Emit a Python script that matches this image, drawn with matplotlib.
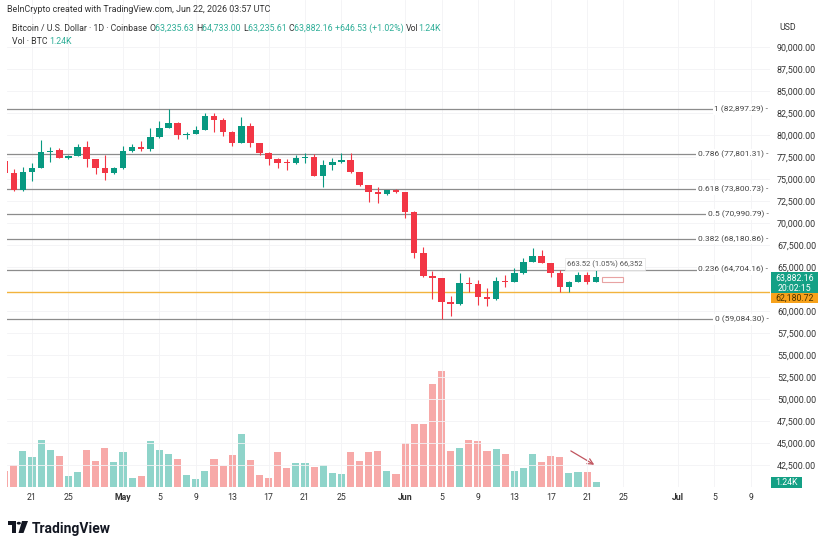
import matplotlib
matplotlib.use("Agg")
import matplotlib.pyplot as plt
import matplotlib.dates as mdates
import matplotlib.transforms as mtransforms
from matplotlib.patches import Rectangle, Polygon, Circle
import numpy as np
import pandas as pd

plt.rcParams['font.family'] = ['Roboto', 'DejaVu Sans']

# daily candles, Apr 18 - Jun 22 2026
dates = pd.date_range('2026-04-18', '2026-06-22', freq='D')
opens = [77030, 75700, 73740, 75780, 76270, 78080, 78280, 77370, 77590, 78580,
         77250, 76230, 75630, 76200, 78160, 78580, 78390, 79720, 80810, 81370,
         79940, 80130, 80580, 82140, 81680, 80350, 79100, 81000, 79040, 77970,
         77290, 76910, 76770, 77370, 77450, 75360, 76570, 76880, 77140, 75750,
         74270, 73480, 73280, 73700, 73480, 71270, 66550, 63970, 63710, 61020,
         60760, 63210, 63030, 61630, 61360, 63440, 63330, 64350, 65600, 66240,
         65480, 64350, 62760, 63330, 64090, 63235.63]
highs = [77250, 76090, 76380, 76770, 79410, 78650, 78470, 77710, 78920, 79330,
         77300, 77710, 76350, 78760, 78920, 79330, 80740, 81600, 82897.29, 81450,
         80350, 81000, 82440, 82440, 81870, 80400, 82060, 81310, 79100, 78000,
         77350, 77220, 77710, 77900, 77870, 77140, 77330, 77970, 77970, 75800,
         74300, 74110, 73750, 73850, 73500, 71300, 67230, 64580, 63750, 61700,
         64280, 63900, 63520, 62580, 63900, 64090, 64850, 65980, 67120, 66930,
         65500, 64660, 63400, 64460, 64460, 64733.00]
lows = [75500, 73600, 73600, 74790, 76200, 76950, 77350, 77290, 77550, 76380,
        75550, 74870, 75550, 76150, 78100, 78200, 78200, 79650, 80750, 79490,
        79490, 80080, 80500, 80350, 79870, 78730, 79050, 78580, 77710, 76540,
        76200, 76000, 76700, 76830, 75300, 74110, 76000, 76850, 75700, 74200,
        72340, 72290, 73200, 73400, 70520, 65980, 63900, 61330, 59084.30, 59430,
        60700, 62190, 60680, 60570, 61300, 62760, 63300, 64200, 65550, 65400,
        63900, 62190, 62190, 63250, 63100, 63235.61]
closes = [75700, 73740, 75780, 76270, 78080, 78200, 77400, 77590, 78580, 77250,
          76230, 75630, 76200, 78160, 78580, 78390, 79720, 80810, 81370, 79940,
          80130, 80580, 82140, 81680, 80350, 79100, 81000, 79040, 77970, 77290,
          76830, 76770, 77370, 77450, 75360, 76570, 76880, 77140, 75750, 74270,
          73480, 73280, 73700, 73480, 71270, 66550, 63970, 63710, 61020, 60760,
          63210, 63030, 61630, 61360, 63440, 63330, 64350, 65600, 66240, 65480,
          64350, 62760, 63330, 64090, 63236, 63882.16]
# volume in thousands of BTC
volumes = [4.2, 5.7, 9.5, 7.9, 12.3, 9.9, 8.2, 2.8, 4.0, 9.8,
           6.9, 10.2, 6.7, 9.3, 2.3, 2.8, 12.1, 9.7, 8.8, 7.4,
           3.3, 2.0, 4.2, 7.4, 5.5, 8.4, 14.1, 7.0, 3.1, 2.5,
           9.3, 5.1, 6.3, 6.3, 5.4, 5.9, 3.8, 3.4, 9.2, 6.9,
           9.2, 9.5, 4.2, 3.4, 11.5, 16.7, 16.7, 27.3, 30.6, 9.5,
           10.4, 12.5, 12.1, 9.5, 10.0, 8.6, 4.2, 4.9, 8.6, 6.6,
           8.1, 7.9, 3.7, 4.0, 4.0, 1.24]

fib_ratios = ['1', '0.786', '0.618', '0.5', '0.382', '0.236', '0']
fib_levels = [82897.29, 77801.31, 73800.73, 70990.79, 68180.86, 64704.16, 59084.30]
support_level = 62180.72
last_close = 63882.16

price_ticks = [42500, 45000, 47500, 50000, 52500, 55000, 57500, 60000, 65000,
               67500, 70000, 72500, 75000, 77500, 80000, 82500, 85000, 87500, 90000]
tick_dates = ['2026-04-21', '2026-04-25', '2026-05-01', '2026-05-05', '2026-05-09',
              '2026-05-13', '2026-05-17', '2026-05-21', '2026-05-25', '2026-06-01',
              '2026-06-05', '2026-06-09', '2026-06-13', '2026-06-17', '2026-06-21',
              '2026-06-25', '2026-07-01', '2026-07-05', '2026-07-09']
tick_labels = ['21', '25', 'May', '5', '9', '13', '17', '21', '25', 'Jun',
               '5', '9', '13', '17', '21', '25', 'Jul', '5', '9']

GREEN = '#089981'
RED = '#f23645'
VGREEN = '#8fd4ca'
VRED = '#f7a9a8'
TEAL = '#2fae98'
DARK = '#333333'
W, H = 828, 545


def fx(x):
    return x / W


def fy(y):
    return 1 - y / H


x = mdates.date2num(dates)
o = np.array(opens)
c = np.array(closes)
up = c >= o

fig = plt.figure(figsize=(W / 100, H / 100), dpi=100)
rect = [fx(7), fy(487), (770 - 7) / W, 487 / H]
axv = fig.add_axes(rect)
ax = fig.add_axes(rect, sharex=axv)
axv.set_zorder(0)
ax.set_zorder(1)
ax.patch.set_visible(False)

# volume
axv.bar(x, volumes, width=0.78, color=np.where(up, VGREEN, VRED), edgecolor='none')
axv.set_ylim(0, 128.6)
axv.axis('off')

# candles
colors = np.where(up, GREEN, RED)
ax.vlines(x, lows, highs, colors=colors, lw=0.8, zorder=3)
body = np.maximum(np.abs(c - o), 80)
ax.bar(x, body, bottom=np.minimum(o, c), width=0.72, color=colors, edgecolor='none', zorder=4)

ax.set_xlim(mdates.datestr2num('2026-04-18') + 0.25, mdates.datestr2num('2026-07-11') + 0.1)
ax.set_ylim(40017, 95300)

# fib retracement
blend = mtransforms.blended_transform_factory(ax.transAxes, ax.transData)
for r, lv in zip(fib_ratios, fib_levels):
    ax.axhline(lv, color='#8c8c8c', lw=0.9, zorder=2)
    ax.text(0.998, lv, f'{r} ({lv:,.2f}) -', transform=blend, ha='right', va='center',
            fontsize=6, color='#444444', zorder=5,
            bbox=dict(fc='white', ec='none', pad=1.2))
ax.axhline(support_level, color='#f2b33d', lw=1, zorder=2)

# measure tool
d22 = mdates.datestr2num('2026-06-22')
ax.add_patch(Rectangle((d22 + 0.6, 63235.63), 2.4, last_close - 63235.63, fill=False,
                       ec='#e8a3a3', lw=0.8, zorder=3))
ax.text(d22 + 1.0, 65340, '663.52 (1.05%) 66,352', fontsize=5.5, color='#555555',
        ha='center', va='center', zorder=6,
        bbox=dict(fc='white', ec='#e4e4e4', lw=0.5, pad=1.5))

# arrow over volume
axv.annotate('', xy=(d22 + 0.05, 5.5), xytext=(d22 - 3.05, 9.9),
             arrowprops=dict(arrowstyle='->', color='#c0545e', lw=0.9, mutation_scale=10))

# axes styling
for s in ax.spines.values():
    s.set_visible(False)
ax.set_xticks(mdates.datestr2num(tick_dates))
ax.set_xticklabels(tick_labels)
for lab in ax.get_xticklabels():
    if lab.get_text() in ('May', 'Jun', 'Jul'):
        lab.set_fontweight('bold')
ax.tick_params(axis='x', length=0, pad=4, labelsize=6.3, colors=DARK)
ax.yaxis.tick_right()
ax.set_yticks(price_ticks)
ax.yaxis.set_major_formatter(matplotlib.ticker.FuncFormatter(lambda v, p: f'{v:,.2f}'))
ax.tick_params(axis='y', length=0, pad=5, labelsize=6.4, colors=DARK)
ax.grid(True, color='#f3f3f5', lw=0.6)
ax.set_axisbelow(True)

# header
fig.text(fx(7), fy(10), 'BeInCrypto created with TradingView.com, Jun 22, 2026 03:57 UTC',
         fontsize=6.4, color=DARK, va='center')
segs = [('O', DARK), ('63,235.63 ', TEAL), ('H', DARK), ('64,733.00 ', TEAL),
        ('L', DARK), ('63,235.61 ', TEAL), ('C', DARK), ('63,882.16 ', TEAL),
        ('+646.53 (+1.02%) ', TEAL), ('Vol', DARK), ('1.24K', TEAL)]
t = fig.text(fx(12), fy(31), 'Bitcoin / U.S. Dollar · 1D · Coinbase ', fontsize=6.3,
             color=DARK, va='baseline')
for s, col in segs:
    t = plt.annotate(s, xy=(1, 0), xycoords=t, va='bottom', ha='left',
                     fontsize=6.3, color=col, annotation_clip=False)
t = fig.text(fx(12), fy(44), 'Vol · BTC ', fontsize=6.3, color=DARK, va='baseline')
plt.annotate('1.24K', xy=(1, 0), xycoords=t, va='bottom', ha='left', fontsize=6.3, color=TEAL)

fig.text(fx(779), fy(28), 'USD', fontsize=6.3, color=DARK, va='center')

# price badges
fig.patches.append(Rectangle((fx(771), fy(293)), 47 / W, 21 / H, transform=fig.transFigure,
                             fc='#14a085', ec='none', figure=fig))
fig.text(fx(794.5), fy(278), f'{last_close:,.2f}', fontsize=6.3, color='white', ha='center', va='center')
fig.text(fx(794.5), fy(288.5), '20:02:15', fontsize=6.3, color='white', ha='center', va='center')
fig.patches.append(Rectangle((fx(771), fy(303)), 47 / W, 10 / H, transform=fig.transFigure,
                             fc='#f7a21b', ec='none', figure=fig))
fig.text(fx(794.5), fy(298), f'{support_level:,.2f}', fontsize=6.3, color='#4a3200', ha='center', va='center')
fig.patches.append(Rectangle((fx(771), fy(488)), 31 / W, 11 / H, transform=fig.transFigure,
                             fc='#14a085', ec='none', figure=fig))
fig.text(fx(786.5), fy(482.5), '1.24K', fontsize=6.3, color='white', ha='center', va='center')

# TradingView logo
logo = '#131722'
fig.patches.append(Polygon([(fx(8), fy(521)), (fx(16), fy(521)), (fx(16), fy(533)), (fx(12), fy(533)),
                            (fx(12), fy(525)), (fx(8), fy(525))], closed=True,
                           transform=fig.transFigure, fc=logo, ec='none', figure=fig))
fig.patches.append(Circle((fx(18.8), fy(523.2)), 2.1 / W, transform=fig.transFigure,
                          fc=logo, ec='none', figure=fig))
fig.patches.append(Polygon([(fx(22), fy(521)), (fx(28), fy(521)), (fx(23.5), fy(533)), (fx(18.5), fy(533))],
                           closed=True, transform=fig.transFigure, fc=logo, ec='none', figure=fig))
fig.text(fx(32), fy(533), 'TradingView', fontsize=10, fontweight='bold', color=logo, va='baseline')

fig.savefig('out.png', dpi=100, facecolor='white')
